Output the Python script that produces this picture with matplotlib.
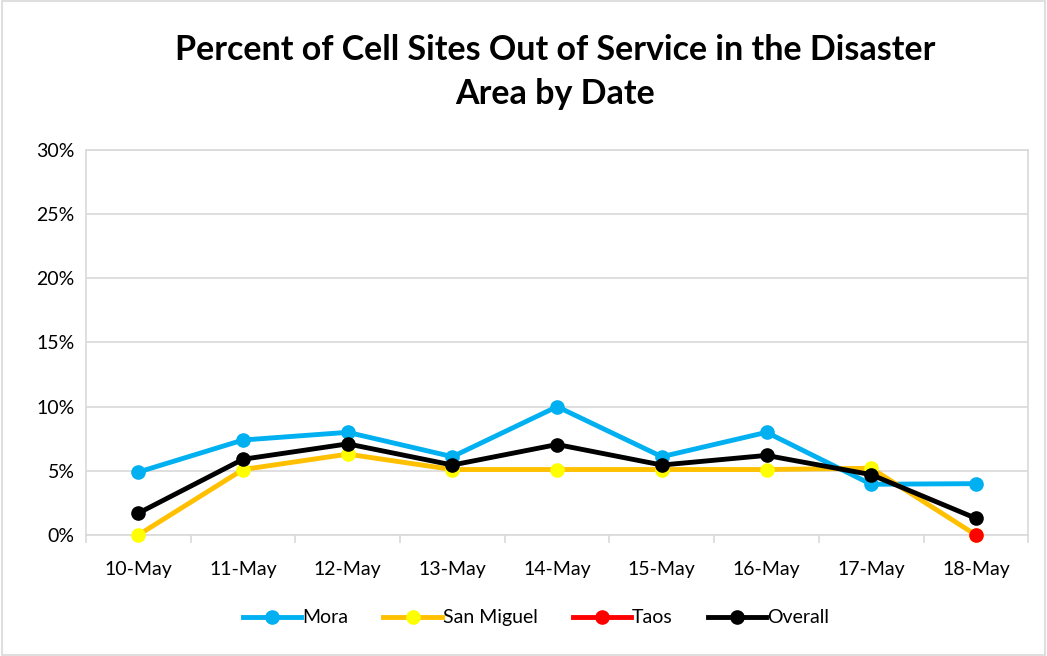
import numpy as np
import matplotlib.pyplot as plt

plt.rcParams['font.family'] = ['Lato', 'DejaVu Sans']

# datos
dates = ["10-May", "11-May", "12-May", "13-May", "14-May", "15-May", "16-May", "17-May", "18-May"]
mora = [4.9, 7.4, 8.0, 6.1, 10.0, 6.1, 8.0, 3.95, 4.0]
san_miguel = [0.0, 5.1, 6.3, 5.1, 5.1, 5.1, 5.1, 5.2, 0.0]
taos = [np.nan, np.nan, np.nan, np.nan, np.nan, np.nan, np.nan, np.nan, 0.0]
overall = [1.7, 5.9, 7.1, 5.45, 7.05, 5.45, 6.2, 4.7, 1.3]

fig = plt.figure(figsize=(10.47, 6.56), dpi=100)
ax = fig.add_axes([0.0821, 0.1845, 0.9, 0.5868])

x = np.arange(len(dates))
kw = dict(lw=3.5, marker="o", ms=9.5, clip_on=False)
ax.plot(x, mora, color="#00b0f0", mfc="#00b0f0", mec="#00b0f0", label="Mora", zorder=3, **kw)
ax.plot(x, san_miguel, color="#ffc000", mfc="#ffff00", mec="#ffff00", label="San Miguel", zorder=3, **kw)
ax.plot(x, taos, color="#ff0000", mfc="#ff0000", mec="#ff0000", label="Taos", zorder=4, **kw)
ax.plot(x, overall, color="black", mfc="black", mec="black", label="Overall", zorder=5, **kw)

ax.set_xlim(-0.5, len(dates) - 0.5)
ax.set_ylim(0, 30)
ax.set_yticks(np.arange(0, 31, 5))
ax.set_yticklabels([f"{v}%" for v in range(0, 31, 5)], fontsize=14)
ax.set_xticks(x)
ax.set_xticklabels(dates, fontsize=14)
ax.set_xticks(np.arange(-0.5, len(dates), 1), minor=True)
ax.tick_params(axis="x", which="major", length=0, pad=19)
ax.tick_params(axis="x", which="minor", length=6, color="#d9d9d9", width=1.2)
ax.tick_params(axis="y", length=0, pad=8)
ax.grid(axis="y", color="#d9d9d9", lw=1.2)
ax.set_axisbelow(True)
for s in ax.spines.values():
    s.set_color("#d9d9d9")
    s.set_linewidth(1.2)

fig.suptitle("Percent of Cell Sites Out of Service in the Disaster\nArea by Date",
             fontsize=24.5, fontweight="bold", x=0.53, y=0.948, linespacing=1.45)

fig.legend(loc="center", bbox_to_anchor=(0.512, 0.058), ncol=4, frameon=False,
           fontsize=14, handlelength=3.0, columnspacing=1.8, handletextpad=0.05)

border = plt.Rectangle((0.002, 0.002), 0.996, 0.996, transform=fig.transFigure,
                       fill=False, edgecolor="#d9d9d9", lw=1.2)
fig.patches.append(border)

fig.savefig("out.png", dpi=100)
